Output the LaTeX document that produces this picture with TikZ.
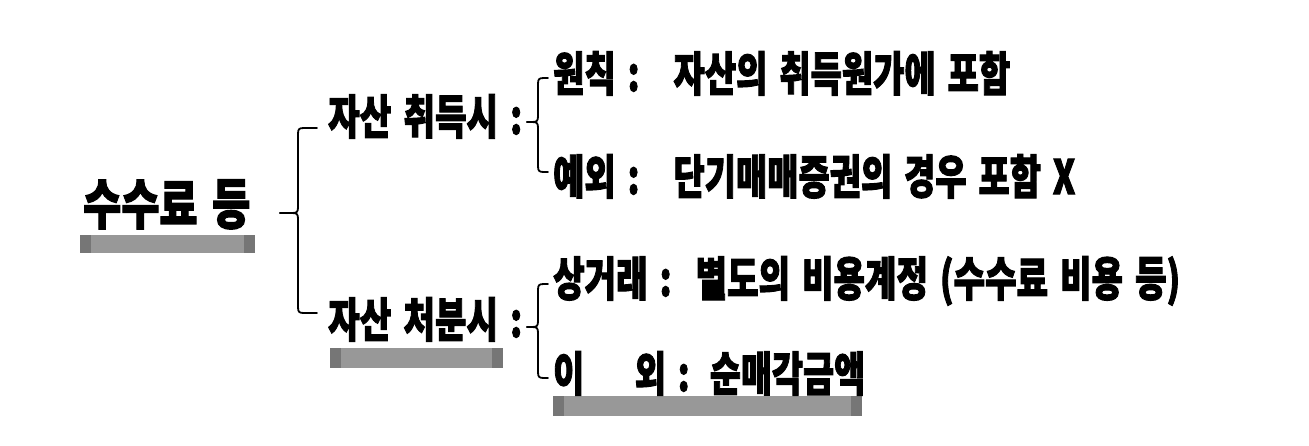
\documentclass[tikz,border=0pt]{standalone}
\usepackage{fontspec}
\newfontfamily\kr{Noto Sans CJK KR}[FakeBold=2.4]
\newcommand\gap[1][0.35]{\hspace{#1em}}
\newcommand\fitw[2]{\resizebox{#1pt}{\height}{#2}}
\tikzset{
  txt/.style={inner sep=0pt, anchor=base west, font=\kr\bfseries\fontsize{47}{54}\selectfont},
  ttl/.style={inner sep=0pt, anchor=base west, font=\kr\bfseries\fontsize{54}{60}\selectfont},
  bracestyle/.style={line width=1.8pt, black, line cap=round, line join=round},
}
\definecolor{barmid}{RGB}{152,152,152}
\definecolor{barend}{RGB}{118,118,118}
\newcommand\hlbar[4]{% x1 x2 y1 y2
  \fill[barmid] (#1,#3) rectangle (#2,#4);
  \fill[barend] (#1,#3) rectangle ({#1+11},#4);
  \fill[barend] ({#2-11},#3) rectangle (#2,#4);
}
\newcommand\mybrace[6]{% xtip xv xend ytop ymid ybot
  \draw[bracestyle] (#3,#4) -- ({#2+6},#4) .. controls ({#2+1},#4) and (#2,{#4+1}) .. (#2,{#4+6})
     -- (#2,{#5-6}) .. controls (#2,{#5-1}) and ({#2-1},#5) .. ({#2-6},#5) -- (#1,#5);
  \draw[bracestyle] (#1,#5) -- ({#2-6},#5) .. controls ({#2-1},#5) and (#2,{#5+1}) .. (#2,{#5+6})
     -- (#2,{#6-6}) .. controls (#2,{#6-1}) and ({#2+1},#6) .. ({#2+6},#6) -- (#3,#6);
}
\begin{document}
\begin{tikzpicture}[x=1pt,y=-1pt]
\useasboundingbox[fill=white] (0,0) rectangle (1309,445);
% highlight bars
\hlbar{80}{255}{235}{253}
\hlbar{330}{503}{348}{368}
\hlbar{553}{862}{396}{416}
% texts
\node[ttl] (t0) at (83,224) {\fitw{167}{수수료\gap 등}};
\node[txt] (s1) at (328,134) {\fitw{194}{자산\gap 취득시\gap :}};
\node[txt] (s2) at (328,337) {\fitw{194}{자산\gap 처분시\gap :}};
\node[txt] (l1) at (553,91) {\fitw{457}{원칙\gap :\gap[1.0]자산의\gap 취득원가에\gap 포함}};
\node[txt] (l2) at (553,194) {\fitw{522}{예외\gap :\gap[1.0]단기매매증권의\gap 경우\gap 포함\gap X}};
\node[txt] (l3) at (553,296) {\fitw{627}{상거래\gap :\gap[0.7]별도의\gap 비용계정\gap (수수료\gap 비용\gap 등)}};
\node[txt] (l4) at (553,391) {\fitw{312}{이\gap[1.5]외\gap :\gap[0.6]순매각금액}};
% braces
\mybrace{280}{298}{317}{128}{213}{313}
\mybrace{527}{538}{548}{78}{122}{172}
\mybrace{527}{538}{548}{284}{327}{378}
\end{tikzpicture}
\end{document}
